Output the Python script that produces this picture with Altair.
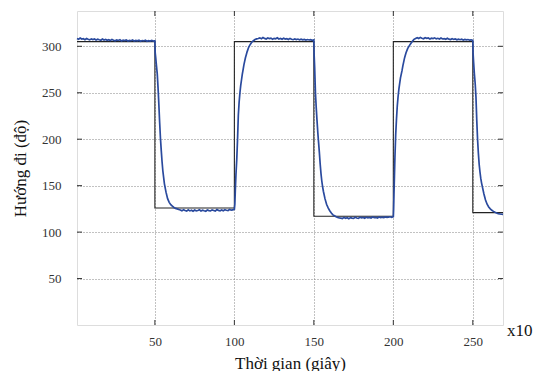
import altair as alt
import pandas as pd

# ---------------- data ----------------
# setpoint (black step line): change times and levels
sp_t = [1, 50, 100, 150, 200, 250, 269]
sp_v = [305, 126, 305, 117, 305, 121, 121]

t_a = list(range(1, 51))
v_a = [308.5, 307.6, 308.9, 307.8, 308.2, 307.1, 308.4, 307.5, 306.9, 308.0,
       307.2, 307.9, 306.8, 307.6, 307.0, 306.5, 307.8, 306.7, 307.3, 306.4,
       307.1, 306.2, 307.4, 306.6, 305.9, 306.8, 306.3, 307.0, 305.8, 306.5,
       306.1, 306.9, 305.7, 306.4, 306.0, 306.7, 305.6, 306.3, 305.9, 306.6,
       305.5, 306.2, 305.8, 306.5, 305.4, 306.1, 305.7, 306.4, 305.6, 305.9]

t_b = [50.2, 50.5, 51, 51.5, 52, 52.5, 53, 53.5, 54, 54.5, 55, 55.5, 56, 57, 58,
       59, 60, 61, 62, 63, 64, 65]
v_b = [293, 288, 279, 270, 255, 237, 218, 201, 188, 176, 166, 159, 152, 143, 136,
       132, 129.5, 128, 126.5, 125.5, 125, 124.3]

t_c = list(range(66, 101))
v_c = [123.8, 122.9, 124.1, 123.2, 122.6, 123.9, 122.8, 123.5, 122.4, 123.7,
       122.9, 123.3, 124.0, 122.7, 123.6, 123.0, 122.5, 123.8, 123.1, 122.8,
       123.9, 123.3, 122.6, 124.2, 123.4, 123.0, 123.8, 122.9, 124.1, 123.5,
       123.2, 124.3, 123.6, 124.0, 124.4]

t_d = [100.3, 100.6, 101, 101.5, 102, 102.5, 103, 103.5, 104, 104.5, 105, 105.5,
       106, 106.5, 107, 107.5, 108, 109, 110, 111, 112, 113, 114, 115]
v_d = [130, 145, 162, 178, 200, 226, 240, 250, 258, 264, 270, 275,
       280, 284, 288, 291, 294, 299, 302, 304.5, 306, 307.3, 308, 308.4]

t_e = list(range(116, 151))
v_e = [309.1, 308.2, 309.4, 308.5, 307.9, 309.0, 308.3, 308.8, 307.7, 308.6,
       308.1, 309.2, 307.9, 308.4, 307.6, 308.7, 307.8, 308.2, 307.4, 308.5,
       307.6, 307.1, 308.0, 307.3, 307.8, 306.9, 307.6, 307.0, 307.5, 306.7,
       307.3, 306.8, 307.2, 306.5, 306.9]

t_f = [150.2, 150.5, 151, 151.5, 152, 152.5, 153, 153.5, 154, 154.5, 155, 155.5,
       156, 157, 158, 159, 160, 161, 162, 163, 164, 165, 166, 167]
v_f = [290, 278, 250, 234, 220, 207, 196, 185, 173, 163, 155, 149,
       144, 136, 130, 126, 123, 120.5, 118.5, 117.5, 116.5, 115.8, 115.3, 115]

t_g = list(range(168, 201))
v_g = [114.6, 115.8, 114.9, 115.4, 114.3, 115.6, 115.0, 114.7, 115.9, 115.2,
       114.8, 116.0, 115.3, 115.7, 114.9, 116.1, 115.4, 115.8, 115.1, 116.2,
       115.5, 115.9, 115.2, 116.3, 115.7, 116.0, 115.6, 116.4, 115.9, 116.2,
       116.5, 115.8, 116.6]

t_h = [200.2, 200.4, 200.7, 201, 201.5, 202, 202.5, 203, 203.5, 204, 204.5, 205,
       205.5, 206, 206.5, 207, 207.5, 208, 209, 210, 211, 212, 213, 214]
v_h = [125, 140, 160, 180, 205, 222, 236, 246, 254, 260, 266, 270,
       274, 279, 283, 287, 290, 293, 297.5, 300.5, 303, 305.5, 307.5, 308.5]

t_i = list(range(215, 251))
v_i = [309.3, 308.4, 309.6, 308.7, 308.1, 309.2, 308.5, 309.0, 307.9, 308.8,
       308.3, 309.1, 308.0, 308.6, 307.8, 308.9, 307.9, 308.3, 307.5, 308.6,
       307.7, 307.2, 308.1, 307.4, 307.9, 307.0, 307.7, 307.1, 307.6, 306.8,
       307.4, 306.9, 307.3, 306.6, 307.0, 306.4]

t_j = [250.2, 250.5, 251, 251.5, 252, 252.5, 253, 253.5, 254, 254.5, 255, 255.5,
       256, 257, 258, 259, 260, 261, 262, 263, 264, 265, 266, 267, 268, 269]
v_j = [292, 283, 270, 260, 245, 220, 200, 185, 173, 165, 158, 153,
       149, 141, 134.5, 130, 127, 125, 123.5, 122.3, 121.3, 120.5, 119.8, 119.5,
       119.2, 119]

x_ticks = [50, 100, 150, 200, 250]
y_ticks = [50, 100, 150, 200, 250, 300]

# ---------------- build ----------------
meas_t = t_a + t_b + t_c + t_d + t_e + t_f + t_g + t_h + t_i + t_j
meas_v = v_a + v_b + v_c + v_d + v_e + v_f + v_g + v_h + v_i + v_j
meas = pd.DataFrame({"t": meas_t, "v": meas_v})
sp = pd.DataFrame({"t": sp_t, "v": sp_v})
xt = pd.DataFrame({"t": x_ticks})
yt = pd.DataFrame({"v": y_ticks})

W, H = 426, 314
FONT = "Liberation Serif"

xs = alt.Scale(domain=[1, 269], nice=False, zero=False)
ys = alt.Scale(domain=[0, 338], nice=False, zero=False)

x_axis = alt.Axis(values=x_ticks, grid=True, gridDash=[1, 2], gridColor="#777777",
                  gridWidth=0.9, ticks=False, domain=False, labelPadding=10,
                  labelFont=FONT, labelFontSize=13, labelColor="#333333",
                  title="Thời gian (giây)", titleFont=FONT, titleFontSize=17,
                  titleFontWeight="normal", titleColor="#111111", titlePadding=7)
y_axis = alt.Axis(values=y_ticks, grid=True, gridDash=[1, 2], gridColor="#777777",
                  gridWidth=0.9, ticks=False, domain=False, labelPadding=16,
                  labelFont=FONT, labelFontSize=13, labelColor="#333333",
                  title="Hướng đi (độ)", titleFont=FONT, titleFontSize=17,
                  titleFontWeight="normal", titleColor="#111111", titlePadding=12)

base_grid = alt.Chart(yt).mark_rule(opacity=0).encode(
    x=alt.X("t:Q", scale=xs, axis=x_axis),
    y=alt.Y("v:Q", scale=ys, axis=y_axis),
).transform_calculate(t="50")

setpoint = alt.Chart(sp).mark_line(color="#222222", strokeWidth=1.1,
                                   interpolate="step-after").encode(
    x=alt.X("t:Q", scale=xs), y=alt.Y("v:Q", scale=ys))

blue = alt.Chart(meas).mark_line(color="#2a4a9e", strokeWidth=1.7).encode(
    x=alt.X("t:Q", scale=xs), y=alt.Y("v:Q", scale=ys))

tk = 5
tick_bottom = alt.Chart(xt).mark_rule(color="#333333", strokeWidth=1).encode(
    x=alt.X("t:Q", scale=xs), y=alt.value(H), y2=alt.value(H - tk))
tick_top = alt.Chart(xt).mark_rule(color="#333333", strokeWidth=1).encode(
    x=alt.X("t:Q", scale=xs), y=alt.value(0), y2=alt.value(tk))
tick_left = alt.Chart(yt).mark_rule(color="#333333", strokeWidth=1).encode(
    y=alt.Y("v:Q", scale=ys), x=alt.value(0), x2=alt.value(tk))
tick_right = alt.Chart(yt).mark_rule(color="#333333", strokeWidth=1).encode(
    y=alt.Y("v:Q", scale=ys), x=alt.value(W), x2=alt.value(W - tk))

x10 = alt.Chart(pd.DataFrame({"s": ["x10"]})).mark_text(
    font=FONT, fontSize=17, align="left", baseline="middle", color="#111111"
).encode(text="s:N", x=alt.value(W + 4), y=alt.value(H + 6))

chart = alt.layer(
    base_grid, setpoint, blue, tick_bottom, tick_top, tick_left, tick_right, x10
).properties(
    width=W, height=H,
    autosize=alt.AutoSizeParams(type="none"),
    padding={"left": 69, "top": 3, "right": 31, "bottom": 46},
).configure_view(stroke="#555555", strokeWidth=1.2).configure(background="white")

chart.save("out.html", embed_options={"renderer": "svg", "actions": False})
